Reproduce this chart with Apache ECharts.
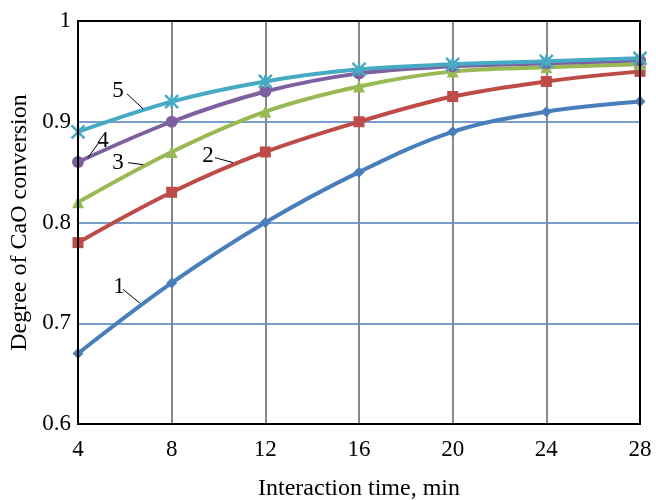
<!DOCTYPE html>
<html><head><meta charset="utf-8">
<script src="https://cdn.jsdelivr.net/npm/echarts@6/dist/echarts.min.js"></script>
<style>html,body{margin:0;padding:0;background:#fff}#c{width:656px;height:500px}</style>
</head><body><div id="c"></div>
<script>
var times = [4, 8, 12, 16, 20, 24, 28];
var curve1 = [0.67, 0.74, 0.80, 0.85, 0.89, 0.91, 0.92];
var curve2 = [0.78, 0.83, 0.87, 0.90, 0.925, 0.94, 0.95];
var curve3 = [0.82, 0.87, 0.91, 0.935, 0.95, 0.954, 0.957];
var curve4 = [0.86, 0.90, 0.93, 0.948, 0.955, 0.958, 0.961];
var curve5 = [0.89, 0.92, 0.94, 0.952, 0.957, 0.96, 0.963];
var curveNames = ['1', '2', '3', '4', '5'];
var xTitle = 'Interaction time, min';
var yTitle = 'Degree of CaO conversion';

var colors = ['#4a7ebb', '#be4b48', '#98b954', '#7d60a0', '#46aac5'];
var symbols = ['diamond', 'rect', 'triangle', 'circle', 'path://M0,0L10,10M10,0L0,10M5,0L5,10'];
var symSizes = [11, 11, 12, 12, 13];
var all = [curve1, curve2, curve3, curve4, curve5];

// annotation: [text pos], [leader start], [leader end] in data coordinates
var notes = [
  {t: '1', p: [5.75, 0.7356], a: [5.92, 0.7337], b: [6.65, 0.7198]},
  {t: '2', p: [9.55, 0.8663], a: [9.85, 0.8644], b: [10.62, 0.8594]},
  {t: '3', p: [5.71, 0.8594], a: [6.14, 0.8594], b: [6.78, 0.8574]},
  {t: '4', p: [5.07, 0.8812], a: [4.43, 0.8644], b: [4.85, 0.8782]},
  {t: '5', p: [5.71, 0.9307], a: [6.09, 0.9277], b: [6.78, 0.9129]}
];

var font = 'Liberation Serif';
var chart = echarts.init(document.getElementById('c'));
var series = all.map(function (vals, i) {
  return {
    name: curveNames[i], type: 'line', smooth: 0.35,
    data: vals.map(function (v, j) { return [times[j], v]; }),
    symbol: symbols[i], symbolSize: symSizes[i], showSymbol: true,
    lineStyle: {color: colors[i], width: 4},
    itemStyle: i === 4 ? {color: colors[i], borderColor: colors[i], borderWidth: 2.5} : {color: colors[i]},
    z: 3 + i
  };
});
chart.setOption({
  animation: false,
  grid: {left: 78, right: 16, top: 21, bottom: 76, show: true, borderColor: '#000', borderWidth: 2, z: 10,
    containLabel: false, outerBoundsMode: 'none'},
  xAxis: {
    type: 'value', min: 4, max: 28, interval: 4,
    name: xTitle, nameLocation: 'middle', nameGap: 53,
    nameTextStyle: {fontFamily: font, fontSize: 24, color: '#000'},
    axisLine: {lineStyle: {color: '#000', width: 2}},
    axisTick: {show: false},
    axisLabel: {fontFamily: font, fontSize: 23, color: '#000', margin: 14},
    splitLine: {show: true, lineStyle: {color: '#888', width: 2}}
  },
  yAxis: {
    type: 'value', min: 0.6, max: 1, interval: 0.1,
    name: yTitle, nameLocation: 'middle', nameGap: 46,
    nameTextStyle: {fontFamily: font, fontSize: 24, color: '#000'},
    axisLine: {show: true, lineStyle: {color: '#000', width: 2}},
    axisTick: {show: false},
    axisLabel: {fontFamily: font, fontSize: 23, color: '#000', margin: 7,
      formatter: function (v) { return v === 1 ? '1' : String(Math.round(v * 10) / 10); }},
    splitLine: {show: true, lineStyle: {color: '#4a7ebb', width: 1.5}}
  },
  series: series
});
var g = [];
notes.forEach(function (n) {
  var p = chart.convertToPixel({gridIndex: 0}, n.p);
  var a = chart.convertToPixel({gridIndex: 0}, n.a);
  var b = chart.convertToPixel({gridIndex: 0}, n.b);
  g.push({type: 'text', x: p[0], y: p[1], z: 20,
    style: {text: n.t, font: '23px "Liberation Serif"', fill: '#000', align: 'center', verticalAlign: 'middle'}});
  g.push({type: 'line', z: 20, shape: {x1: a[0], y1: a[1], x2: b[0], y2: b[1]}, style: {stroke: '#000', lineWidth: 1}});
});
chart.setOption({graphic: g});
</script></body></html>
